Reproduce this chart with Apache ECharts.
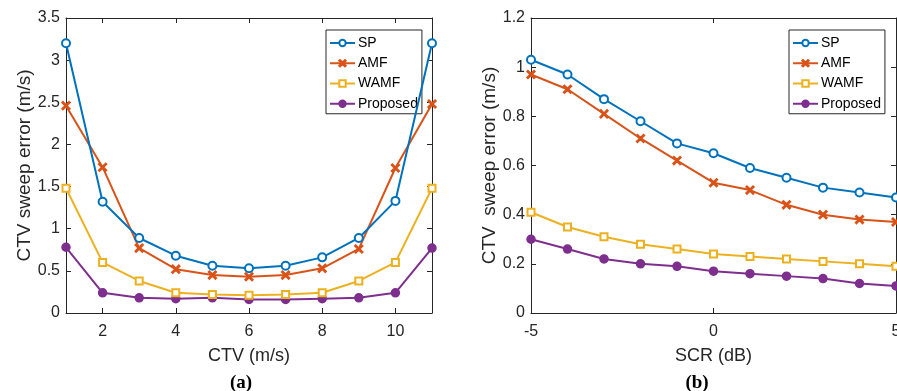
<!DOCTYPE html>
<html><head><meta charset="utf-8">
<script src="https://cdn.jsdelivr.net/npm/echarts@6/dist/echarts.min.js"></script>
<style>html,body{margin:0;padding:0;background:#fff}#c{width:897px;height:391px}</style>
</head><body><div id="c"></div>
<script>
// Panel (a): CTV sweep
const ctv = [1,2,3,4,5,6,7,8,9,10,11];
const spA = [3.20,1.32,0.89,0.68,0.56,0.53,0.56,0.66,0.89,1.33,3.20];
const amfA = [2.46,1.73,0.77,0.52,0.45,0.43,0.45,0.53,0.76,1.72,2.48];
const wamfA = [1.48,0.60,0.38,0.24,0.22,0.21,0.22,0.24,0.38,0.60,1.48];
const propA = [0.78,0.24,0.18,0.17,0.18,0.16,0.16,0.17,0.18,0.24,0.77];
// Panel (b): SCR sweep
const scr = [-5,-4,-3,-2,-1,0,1,2,3,4,5];
const spB = [1.03,0.97,0.87,0.78,0.69,0.65,0.59,0.55,0.51,0.49,0.47];
const amfB = [0.97,0.91,0.81,0.71,0.62,0.53,0.50,0.44,0.40,0.38,0.37];
const wamfB = [0.41,0.35,0.31,0.28,0.26,0.24,0.23,0.22,0.21,0.20,0.19];
const propB = [0.30,0.26,0.22,0.20,0.19,0.17,0.16,0.15,0.14,0.12,0.11];
const xTicksA = [2,4,6,8,10];
const xTicksB = [-5,0,5];
const names = ['SP','AMF','WAMF','Proposed'];

const colors = ['#0072BD','#D95319','#EDB120','#7E2F8E'];
const xPath = 'path://M0,1.2L1.2,0L5,3.8L8.8,0L10,1.2L6.2,5L10,8.8L8.8,10L5,6.2L1.2,10L0,8.8L3.8,5Z';
const symbols = ['emptyCircle', xPath, 'emptyRect', 'circle'];
const sizes = [8, 8, 7, 8];
const font = 'Liberation Sans, Arial, Helvetica, sans-serif';
const axCol = '#262626';

function zip(xs, ys){ return xs.map((x,i)=>[x, ys[i]]); }

function mkSeries(xs, sets, idx){
  return sets.map((ys,i)=>({
    name: names[i], type:'line', xAxisIndex: idx*2, yAxisIndex: idx*2,
    data: zip(xs, ys), symbol: symbols[i], symbolSize: sizes[i],
    showAllSymbol: true,
    lineStyle:{color:colors[i], width:2},
    itemStyle:{color:colors[i], borderColor:colors[i], borderWidth:1.5},
    emphasis:{disabled:true}, z: 10 - i, animation:false
  }));
}

function xAxes(gi, min, max, ticks, name){
  return [{
    type:'value', gridIndex:gi, min, max, position:'bottom',
    name, nameLocation:'middle', nameGap:34,
    nameTextStyle:{fontFamily:font, fontSize:18, color:axCol},
    axisLine:{show:true, onZero:false, lineStyle:{color:axCol, width:1}},
    axisTick:{show:true, inside:true, length:5, customValues:ticks, lineStyle:{color:axCol}},
    axisLabel:{fontFamily:font, fontSize:16, color:axCol, margin:11, customValues:ticks},
    splitLine:{show:false}
  },{
    type:'value', gridIndex:gi, min, max, position:'top',
    axisLine:{show:true, onZero:false, lineStyle:{color:axCol, width:1}},
    axisTick:{show:true, inside:true, length:5, customValues:ticks, lineStyle:{color:axCol}},
    axisLabel:{show:false}, splitLine:{show:false}
  }];
}
function yAxes(gi, max, interval, name, gap){
  return [{
    type:'value', gridIndex:gi, min:0, max, interval, position:'left',
    name, nameLocation:'middle', nameGap:gap,
    nameTextStyle:{fontFamily:font, fontSize:19, color:axCol},
    axisLine:{show:true, onZero:false, lineStyle:{color:axCol, width:1}},
    axisTick:{show:true, inside:true, length:5, lineStyle:{color:axCol}},
    axisLabel:{fontFamily:font, fontSize:16, color:axCol, margin:6},
    splitLine:{show:false}
  },{
    type:'value', gridIndex:gi, min:0, max, interval, position:'right',
    axisLine:{show:true, onZero:false, lineStyle:{color:axCol, width:1}},
    axisTick:{show:true, inside:true, length:5, lineStyle:{color:axCol}},
    axisLabel:{show:false}, splitLine:{show:false}
  }];
}

function legend(left){
  return {
    left, top:30, orient:'vertical', data:names,
    itemWidth:25, itemHeight:8, itemGap:6.25,
    padding:[6,4,3,3],
    borderColor:axCol, borderWidth:1, backgroundColor:'#fff',
    textStyle:{fontFamily:font, fontSize:14, color:'#000', padding:[0,0,0,-2]},
    selectedMode:false
  };
}

const chart = echarts.init(document.getElementById('c'), null, {renderer:'canvas'});
chart.setOption({
  animation:false,
  grid:[
    {left:66, right:465, top:18, bottom:78, outerBoundsMode:'none', containLabel:false},
    {left:531, right:1, top:18, bottom:78, outerBoundsMode:'none', containLabel:false}
  ],
  xAxis:[...xAxes(0,1,11,xTicksA,'CTV (m/s)'), ...xAxes(1,-5,5,xTicksB,'SCR (dB)')],
  yAxis:[...yAxes(0,3.5,0.5,'CTV sweep error (m/s)',32), ...yAxes(1,1.2,0.2,'CTV  sweep error (m/s)',29)],
  legend:[legend(326), legend(789)],
  series:[...mkSeries(ctv,[spA,amfA,wamfA,propA],0), ...mkSeries(scr,[spB,amfB,wamfB,propB],1)],
  graphic:[
    {type:'text', x:241, y:383, style:{text:'(a)', align:'center', verticalAlign:'middle', font:'bold 19px "Liberation Serif", "Times New Roman", serif', fill:'#000'}},
    {type:'text', x:697, y:383, style:{text:'(b)', align:'center', verticalAlign:'middle', font:'bold 19px "Liberation Serif", "Times New Roman", serif', fill:'#000'}}
  ]
});
</script></body></html>
